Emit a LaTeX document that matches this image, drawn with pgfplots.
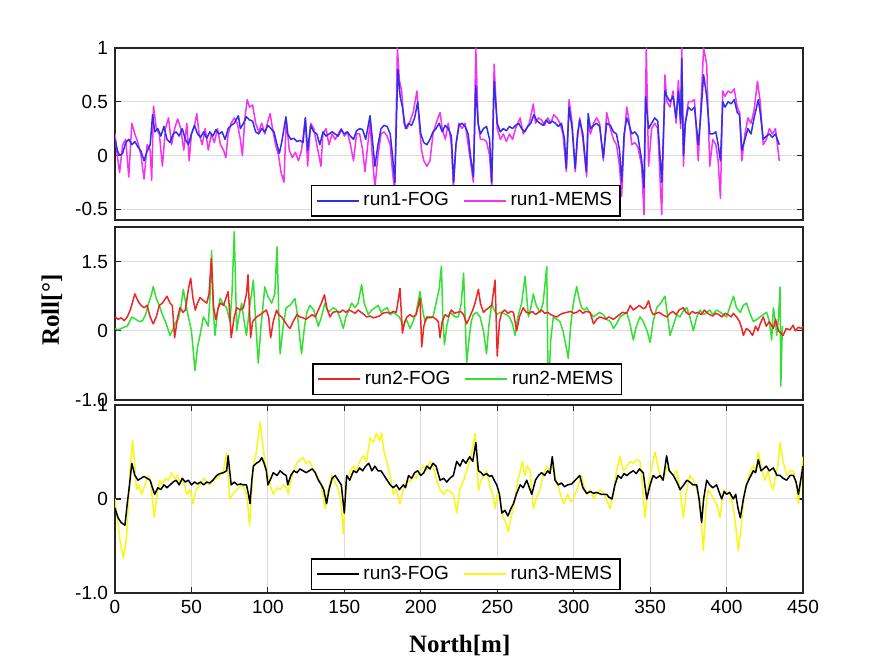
\documentclass[border=0pt]{standalone}
\usepackage{pgfplots}
\pgfplotsset{compat=1.18}
\usepackage{fontspec}
\setmainfont{Liberation Sans}
\newfontfamily\labfont{Liberation Serif}
\definecolor{fogblue}{rgb}{0.18,0.18,0.92}
\definecolor{memsmag}{rgb}{0.95,0.2,0.95}
\definecolor{fogred}{rgb}{0.93,0.15,0.15}
\definecolor{memsgreen}{rgb}{0.2,0.88,0.2}
\definecolor{memsyel}{rgb}{0.97,0.97,0.1}
\definecolor{gridgray}{rgb}{0.86,0.86,0.86}
\pgfplotsset{
  panel/.style={
    scale only axis, width=344pt, xmin=0, xmax=450,
    anchor=south west,
    axis line style={black!85, line width=0.7pt},
    tick align=inside, major tick length=3pt,
    tick style={black!85, line width=0.6pt},
    grid style={gridgray, line width=0.5pt},
    ticklabel style={font=\fontsize{9.5}{10}\selectfont},
    /pgf/number format/assume math mode=true,
    legend columns=2,
    reverse legend,
    legend cell align=left,
    legend style={draw=black, line width=0.7pt, fill=white,
      font=\fontsize{9.5}{10}\selectfont, inner xsep=2pt, inner ysep=1.5pt,
      /tikz/every even column/.append style={column sep=5pt},
      nodes={inner sep=2pt}},
    legend image code/.code={\draw[#1, line width=0.85pt] (0pt,0pt) -- (21pt,0pt);},
    every axis plot/.append style={line width=0.75pt, line join=round},
  }
}
\begin{document}
\begin{tikzpicture}
\path[use as bounding box] (0,0) rectangle (444pt,333.5pt);
% ---------- panel 1 ----------
\begin{axis}[panel, at={(57.5pt,223.5pt)}, height=86pt,
  ymin=-0.6, ymax=1, ytick={-0.5,0,0.5,1}, yticklabels={-0.5,0,0.5,1},
  xtick=\empty, ymajorgrids, ytick pos=both,
  legend style={at={(0.51,0.02)}, anchor=south}]
\addplot[memsmag] coordinates {(0,0.2)(1.5,0)(3,-0.16)(5,0.1)(7,0.15)(9,-0.2)(11,0.3)(13,0.2)(15,0.12)(17,0)(19,-0.22)(21,0.1)(23,0.05)(24,-0.23)(25.2,0.46)(27,0.25)(29,0.2)(31,-0.1)(33,0.25)(35,0.35)(37,0.1)(39,0.25)(41,0.34)(43,0.25)(45,0.05)(47,0.3)(48.5,-0.05)(50,0.2)(52,0.28)(53.5,0.39)(55,0.2)(57,0.1)(59,0.25)(61,0.05)(63,0.2)(65,0.12)(67,0.25)(69,0.1)(71,0.05)(72.5,-0.02)(74,0.2)(76,0.3)(78,0.35)(80,0.3)(82,0.15)(83.3,0)(85,0.35)(86.5,0.52)(88,0.45)(90,0.47)(92,0.3)(94,0.22)(96,0.3)(98,0.2)(100,0.32)(101.5,0.39)(103,0.25)(105,0.1)(107,0)(108.5,-0.15)(110.5,-0.25)(112,0.33)(114,0.05)(116,-0.02)(118,0.03)(120,-0.05)(122,0.05)(124.5,0.35)(126,-0.1)(128,0.3)(130,0.25)(132,0.1)(134.7,-0.1)(136,0.2)(138,0.25)(140,0.1)(142,0.2)(144,0.15)(146,0.2)(148,0.25)(150,0.18)(152,0.22)(154,0.1)(156,-0.05)(158,0.2)(160,0.2)(162,0.05)(163.5,-0.15)(166.8,0.3)(168,0.05)(170,-0.3)(172,0)(174,0.2)(176,0.22)(178,0.18)(180,0.1)(181.5,-0.15)(183,-0.35)(184.7,1)(186,0.7)(187.5,0.6)(189,0.3)(191,0.25)(193,0.32)(195,0.4)(197.5,0.6)(199,0.3)(200.5,0.05)(202,-0.05)(204,-0.1)(206,-0.05)(208,0.2)(210,0.3)(212.6,0.4)(214,0.25)(216,0.15)(218,0.3)(220,0.1)(221.3,-0.3)(223,0.1)(225,0.3)(227,0.25)(229,0.3)(231,0.1)(232.5,-0.05)(234.4,-0.25)(236,1)(237.5,0.3)(239,0.15)(241,0.15)(243,0.13)(245,0)(246.4,-0.3)(248,0.85)(250,0.25)(252,0.15)(254,0.2)(256,0.13)(258,0.2)(260,0.15)(262,0.25)(265,0.35)(267,0.2)(269,0.25)(271,0.3)(273.6,0.48)(275,0.3)(277,0.35)(279,0.33)(281,0.28)(283,0.35)(285,0.3)(287,0.38)(289,0.35)(291,0.3)(293,0.2)(295.2,-0.15)(297,0.52)(299,0.3)(301,-0.15)(302.5,0.15)(304,0.35)(306,0.15)(308.5,-0.2)(309.5,0.3)(311,0.2)(313,0.3)(315,0.35)(317,0.3)(319.4,-0.05)(321.6,0.4)(324,0.25)(326,0.15)(328,0.1)(330,-0.1)(331.4,-0.38)(333,0.15)(334.7,0.45)(336,0.35)(338,0.1)(340,0.12)(342,0.08)(344.5,-0.1)(346,-0.55)(347.5,1)(349,-0.1)(351,0.25)(353,0.3)(355,0.25)(357.6,-0.55)(359.7,0.75)(361,0.5)(363,0.45)(365,0.6)(367,0.3)(368.5,0.7)(370,0.25)(370.7,1)(371.8,-0.1)(373,0.3)(375,0.5)(377,0.5)(379,0.52)(381.5,-0.05)(383,0.4)(385,1)(387,0.85)(389,-0.1)(391,0.15)(393,0.1)(394.5,-0.05)(396,-0.4)(397.5,0.6)(399,0.55)(401,0.6)(403,0.58)(405,0.62)(407,0.45)(408.5,0.4)(410,-0.05)(412,0.2)(414,0.35)(416,0.3)(418,0.42)(420.2,0.69)(422,0.5)(424,0.1)(426,0.15)(428,0.25)(430,0.2)(432,0.25)(434.5,-0.05)};
\addlegendentry{run1-MEMS}
\addplot[fogblue] coordinates {(0,0.15)(1.5,0.05)(3,0)(5,0.02)(7,0.12)(9,0.15)(11,0.1)(13,0.13)(15,0.08)(17,0.04)(19,-0.05)(21,0.04)(23,0.1)(24.6,0.38)(26,0.22)(28,0.25)(30,0.18)(32,0.27)(34,0.15)(36,0.12)(38,0.2)(40,0.22)(42,0.18)(44,0.25)(46,0.15)(48,0.1)(50,0.2)(52,0.28)(54,0.2)(56,0.17)(58,0.22)(60,0.16)(62,0.22)(64,0.18)(66,0.24)(68,0.2)(70,0.22)(72,0.15)(74,0.25)(76,0.28)(78,0.3)(80.7,0.37)(82,0.25)(84,0.3)(86,0.36)(88,0.33)(90,0.32)(92,0.22)(94,0.2)(96,0.25)(98,0.22)(100,0.28)(102,0.25)(104,0.22)(106,0.1)(107.5,0.02)(109,0.12)(111.8,0.36)(113,0.2)(115,0.15)(117,0.16)(119,0.13)(121,0.14)(123,0.12)(124.5,0.35)(126,0.05)(128,0.28)(130,0.22)(132,0.2)(134,0.1)(136,0.22)(138,0.18)(140,0.2)(142,0.22)(144,0.2)(146,0.18)(148,0.24)(150,0.2)(152,0.22)(154,0.18)(156,0.15)(158,0.23)(160,0.25)(162,0.24)(164,0.15)(166.8,0.37)(168,0.2)(170,-0.1)(172,0.1)(174,0.25)(176,0.28)(178,0.27)(180,0.2)(181.5,0)(183,-0.25)(185,0.8)(186.5,0.55)(188,0.45)(190,0.25)(192,0.3)(194,0.28)(196,0.35)(198,0.5)(200,0.2)(202,0.12)(204,0.1)(206,0.15)(208,0.22)(210,0.25)(212,0.3)(214,0.22)(216,0.28)(218,0.25)(220,0.18)(221.5,-0.25)(223,0.1)(225,0.28)(227,0.3)(229,0.27)(231,0.2)(232.5,0)(234.4,-0.2)(236,0.65)(237.5,0.3)(239,0.2)(241,0.25)(243,0.27)(245,0.15)(246.4,-0.25)(248,0.69)(250,0.3)(252,0.22)(254,0.25)(256,0.23)(258,0.27)(260,0.25)(262,0.28)(264,0.3)(266,0.25)(268,0.22)(270,0.27)(272,0.3)(274,0.38)(276,0.32)(278,0.3)(280,0.28)(282,0.33)(284,0.3)(286,0.32)(288,0.3)(290,0.27)(292,0.3)(294,0.15)(295.2,-0.12)(297,0.45)(299,0.25)(301,-0.12)(302.5,0.2)(304,0.33)(306,0.2)(308.3,-0.15)(309.5,0.39)(311,0.25)(313,0.28)(315,0.3)(317,0.27)(319.4,-0.02)(321.6,0.3)(324,0.28)(326,0.22)(328,0.2)(330,0.05)(331.4,-0.25)(333,0.2)(334.7,0.35)(336,0.3)(338,0.2)(340,0.22)(342,0.18)(344.5,-0.05)(346,-0.3)(347,0.55)(349,0.25)(351,0.3)(353,0.35)(355,0.32)(357.6,-0.25)(359.7,0.6)(361,0.55)(363,0.5)(365,0.55)(367,0.35)(368.5,0.6)(370,0.3)(370.7,0.9)(371.8,0)(373,0.3)(375,0.45)(377,0.42)(379,0.45)(381.5,0.1)(383,0.35)(385,0.75)(387,0.55)(389,0.2)(391,0.2)(393,0.22)(394.5,0.1)(396,-0.05)(397.5,0.5)(399,0.45)(401,0.5)(403,0.48)(405,0.52)(407,0.4)(408.5,0.38)(410,0.05)(412,0.15)(414,0.25)(416,0.2)(418,0.35)(420.8,0.52)(422,0.4)(424,0.15)(426,0.18)(428,0.2)(430,0.17)(432,0.2)(434.5,0.1)};
\addlegendentry{run1-FOG}
\end{axis}
% ---------- panel 2 ----------
\begin{axis}[panel, at={(57.5pt,133.5pt)}, height=86.5pt,
  ymin=-1.5, ymax=2.25, ytick={-1.5,0,1.5}, yticklabels={-1.0,0,1.5},
  xtick=\empty, ymajorgrids, ytick pos=both,
  ylabel={\labfont\bfseries\fontsize{12.5}{13}\selectfont Roll[°]},
  ylabel style={at={(axis description cs:-0.0916,0.52)}, anchor=center},
  legend style={at={(0.512,0.029)}, anchor=south}]
\addplot[memsgreen] coordinates {(0,0.05)(2,0.02)(4,0.05)(6,0.08)(8,0.1)(11,0.3)(13.5,0.25)(16,0.2)(18,0.22)(20,0.35)(22,0.6)(24,0.8)(25,0.96)(27,0.7)(29,0.55)(31,0.35)(33,0.2)(34.5,0.05)(36,-0.1)(38,0.05)(40,0.2)(41.4,0.25)(43,0.5)(44.7,0.9)(46.5,0.55)(48,0.3)(50,0)(52.3,-0.86)(54,-0.35)(55.6,-0.1)(57.8,0.3)(59.5,0.2)(61,0.1)(62.2,0.8)(63.2,1.74)(64.2,0.5)(65.4,-0.1)(67,0.4)(68.7,0.7)(70.5,0.6)(73,0.5)(75.2,0.2)(76.5,0.8)(78,2.15)(79.6,0)(81,0.3)(82.8,0.6)(84.5,0.2)(86,-0.1)(88,0.5)(90.5,1.1)(92,0.2)(93.7,-0.7)(95.5,0.1)(98,0.95)(100,0.75)(102.5,0.6)(104.5,0.8)(106,1.82)(107,0.5)(108,-0.5)(110,0.1)(112,0.5)(114.5,0.55)(117.7,0.7)(119.5,0.3)(121,-0.2)(122,-0.5)(124,0.1)(125.5,0.4)(127.5,0.55)(130,0.45)(133,0.1)(135,0.3)(137.3,0.6)(139.5,0.4)(142.8,0.5)(145,0.45)(147,0.3)(149.3,0.05)(151,0.3)(153,0.45)(154.8,0.6)(157,0.5)(159,0.6)(161.3,1)(163,0.6)(165.7,0.35)(168,0.45)(170,0.5)(172.2,0.55)(174,0.4)(175.5,0.45)(178,0.5)(180,0.35)(182,0.4)(184,0.35)(186,0.3)(188.6,0.1)(190.5,0.25)(193,0.05)(195,0.2)(197,0.4)(199.5,0.85)(201,0.5)(202.7,0.2)(205,0.3)(208,0.3)(210,0.6)(212,0.9)(213.5,1.4)(214.5,0.2)(215.5,-0.3)(217,0.1)(219,0.4)(221,0.35)(222.5,0.3)(224.6,0.3)(226.5,0.6)(228,1.25)(229,0.3)(230,-0.7)(231.5,-0.2)(233,0.2)(234.4,0.35)(236.5,0.4)(238.8,0.3)(241,0)(243,-0.5)(244.5,0.1)(246.4,0.6)(248,0.45)(249.7,0.35)(252,0.4)(254,0.38)(256,0.35)(258,0.3)(260,0.15)(261.7,-0.1)(263.5,0.3)(266,0.6)(268.2,1.18)(270.4,0.3)(272,0.5)(273.6,0.8)(275.5,0.55)(278,0.4)(280,0.6)(282.4,1.39)(283.4,-1.4)(285,-0.2)(286.7,0.3)(289,0.25)(291,0.2)(293,0)(294.8,-0.3)(296.5,-0.6)(298,0.1)(299.8,0.6)(302,0.96)(303.5,0.7)(305.2,0.5)(307,0.45)(308.5,0.5)(310.5,0.4)(313,0.3)(315,0.35)(317,0.4)(319.4,0.35)(321.5,0.25)(324,0.2)(326,0.05)(328,0.15)(330.3,0.3)(332.5,0.35)(334.7,0.4)(336.5,0.2)(339,-0.2)(341,0.1)(343.4,0.3)(345.5,0.2)(348,0)(350,-0.25)(352,0.2)(354.3,0.5)(357,0.6)(359.7,0.75)(361.5,0.3)(363,-0.1)(365,0.1)(367.4,0.35)(369.5,0.3)(372,0.45)(374,0.5)(376,0.3)(378.3,0)(380.5,0.3)(382.6,0.45)(385,0.35)(387,0.4)(389,0.45)(391,0.35)(393.5,0.45)(396,0.4)(398,0.35)(400,0.3)(402,0.5)(404.5,0.75)(406.5,0.5)(409,0.4)(411,0.55)(413,0.6)(415,0.4)(417.5,0.2)(420,0.25)(422,0.3)(424,0.35)(426.2,0.4)(428,0.2)(429.5,-0.2)(430.6,0.5)(432,0.2)(432.8,-0.1)(434,0.3)(435,0.95)(435.5,-1.2)(436.5,0.1)};
\addlegendentry{run2-MEMS}
\addplot[fogred] coordinates {(0,0.3)(2,0.25)(4,0.28)(6,0.22)(8,0.3)(10,0.45)(13,0.8)(15,0.65)(17,0.55)(19,0.5)(21,0.55)(23,0.3)(25,0.15)(27,0.3)(29,0.55)(31,0.6)(34,0.75)(36,0.6)(37.5,0.55)(39,-0.15)(41,0.3)(42.5,0.5)(44.5,0.4)(46,0.45)(48,0.9)(49.5,1.14)(51,0.7)(52.5,0.45)(54,0.6)(55.6,0.72)(58,0.65)(60,0.6)(61.5,0.8)(63,1.57)(64.5,0.5)(66,0.24)(67.5,0.5)(69,0.6)(71,0.55)(74,0.85)(75,0.4)(76,-0.15)(78,0.3)(79.6,0.5)(82,0.45)(84,0.5)(86,0.8)(87,1.21)(88.7,-0.15)(90,0.2)(92.6,0.3)(95,0.35)(97,0.4)(99,0.45)(100.5,0.3)(101.8,-0.15)(103.5,0.2)(105.7,0.45)(107,0.35)(109,0.3)(111,0.2)(113,0.1)(114.5,0.05)(116.5,0.2)(119,0.35)(121,0.3)(123,0.28)(125,0.25)(127,0.3)(129,0.35)(131,0.3)(133,0.45)(135,0.6)(137,0.78)(138.5,0.5)(140.6,0.3)(142.5,0.4)(145,0.42)(147,0.4)(149,0.45)(151,0.4)(153,0.45)(155,0.42)(157,0.38)(159,0.45)(161,0.4)(163,0.35)(164.6,0.3)(167,0.32)(169,0.28)(171,0.3)(173,0.32)(175,0.38)(177.7,0.4)(180,0.38)(182,0.42)(184,0.4)(186.4,0.92)(188,-0.05)(189.5,0.2)(191,0.3)(193,0.35)(195,0.3)(197,0.35)(199.5,0.7)(200.6,-0.35)(202,0.1)(203.8,0.3)(206,0.28)(208,0.3)(210,0.25)(211.5,0.2)(212.6,-0.15)(214,0.2)(216,0.35)(218,0.3)(220,0.45)(222,0.38)(224,0.4)(226,0.42)(228,0.35)(230,0.15)(232,0.3)(234,0.45)(235.5,0.6)(237.7,0.9)(239,0.6)(241,0.4)(242.5,0.45)(244.5,0.5)(246.4,0.55)(248.6,1.1)(250,-0.55)(251.5,0.2)(253,0.4)(255,0.45)(257,0.38)(259,0.42)(260.6,0.4)(262.7,0)(264.5,0.3)(267,0.5)(269,0.4)(271,0.38)(273,0.42)(275,0.35)(277,0.4)(279,0.45)(281,0.38)(283,0.4)(285,0.35)(287,0.32)(289,0.3)(291,0.35)(293,0.38)(295.5,0.4)(298,0.42)(300,0.38)(302,0.4)(304,0.45)(306,0.38)(308,0.42)(310.7,0.4)(313,0.15)(315,0.25)(317,0.3)(319,0.28)(321,0.25)(323,0.3)(326,0.25)(328,0.3)(330,0.35)(332,0.4)(334.7,0.38)(337,0.55)(339,0.45)(341,0.5)(343,0.55)(345.5,0.48)(347,0.5)(349,0.65)(350.5,0.45)(352,0.35)(354,0.38)(356,0.4)(358,0.35)(361,0.3)(363,0.38)(365,0.42)(367,0.35)(369,0.45)(371.7,0.5)(373.5,0.4)(375.5,0.35)(377.5,0.42)(379.5,0.38)(381.5,0.4)(383.5,0.35)(385.5,0.45)(387,0.4)(389,0.35)(391,0.32)(393,0.38)(395,0.35)(397,0.3)(399,0.38)(401,0.35)(403,0.3)(404.5,0.38)(406.5,0.3)(408.5,0.2)(410,0.05)(411,-0.1)(413,0.05)(415,0)(417,-0.1)(419,0.1)(420.5,0)(422,0.15)(424,0.3)(426,0.1)(428,0.2)(430.6,0.05)(432,0.25)(434,0)(437,-0.1)(439,0.05)(441.5,0.02)(443.5,0.12)(445,0)(447,0.08)(448.5,0.05)(450,0.08)};
\addlegendentry{run2-FOG}
\end{axis}
% ---------- panel 3 ----------
\begin{axis}[panel, at={(57.5pt,37pt)}, height=94pt,
  ymin=-1, ymax=1, ytick={-1,0,1}, yticklabels={-1.0,0,1},
  xtick={0,50,...,450}, xticklabels={0,50,100,150,200,250,300,350,400,450},
  xmajorgrids, ymajorgrids, ytick pos=both, xtick pos=both,
  xlabel={\labfont\bfseries\fontsize{12.5}{13}\selectfont North[m]},
  xlabel style={at={(axis description cs:0.501,-0.277)}, anchor=center},
  legend style={at={(0.51,0.016)}, anchor=south}]
\addplot[memsyel] coordinates {(0,0)(1.5,-0.2)(3.3,-0.45)(5.5,-0.63)(7.6,-0.4)(9.8,0.3)(11.5,0.62)(13,0.35)(14,0.1)(15.5,0.15)(17.4,0.05)(19.5,0.15)(21.8,0.25)(23.5,0.15)(25.7,-0.2)(27.5,0.05)(29.4,0.2)(31,0.15)(33,0.22)(35,0.2)(37,0.28)(39,0.22)(41,0.25)(42.5,0.18)(44.5,0.2)(47,0.05)(49,0.1)(51,-0.05)(53,0.1)(55.6,0.15)(58,0.22)(60,0.18)(62,0.15)(64.3,0.2)(66.5,0.22)(68.7,0.25)(71,0.3)(73,0.49)(74,0.25)(75.2,0)(77,0.05)(79.6,0.1)(81,0.12)(83,0.15)(85,0.1)(86.5,0)(88,-0.28)(89.5,0.1)(90.5,0.35)(92.5,0.5)(94,0.7)(95,0.82)(96.5,0.6)(98,0.4)(100,0.25)(101.5,0.15)(103.5,0.05)(106,0.12)(108,0.1)(110,0.15)(112,0.12)(113.4,0.05)(115,0.2)(116.6,0.3)(119,0.38)(121,0.42)(123,0.44)(125,0.38)(127.5,0.4)(130,0.3)(132,0.25)(134,0.2)(136,0.05)(137.3,-0.1)(139.5,0.1)(141.7,0.25)(143.5,0.2)(146,0.1)(148,-0.05)(149.3,-0.37)(150.5,0)(151.5,0.2)(154,0.3)(156,0.35)(158,0.3)(160,0.4)(162.4,0.46)(164.5,0.4)(166.8,0.65)(169,0.6)(171,0.7)(173,0.62)(174.4,0.7)(176,0.5)(177.7,0.4)(180,0.25)(182,0.05)(184,0.1)(186.4,-0.05)(188.5,0.1)(190.8,0.2)(193,0.18)(195,0.25)(197,0.22)(199.5,0.3)(202,0.35)(204,0.3)(206,0.4)(208,0.35)(210.4,0.2)(212.6,0.1)(215,0.05)(217,0.1)(219,0.08)(221.3,0.05)(223.5,-0.15)(225.5,0.1)(228,0.2)(230,0.3)(232,0.4)(234,0.55)(235.5,0.7)(237.7,0.09)(239.5,0.2)(241,0.25)(243,0.3)(245,0.15)(247,0.05)(248.6,-0.1)(250,0.05)(251.8,0)(254,-0.2)(255.5,-0.25)(257.3,-0.35)(259,-0.2)(261.7,0)(263.5,0.2)(265,0.3)(266.5,0.4)(268,0.25)(269.5,0.35)(271.5,0.3)(273.6,-0.1)(275.5,0)(278,0.1)(280,0.25)(282.4,0.35)(284.5,0.3)(286.7,0.35)(288.5,0.2)(290.5,0.1)(293.3,-0.05)(296,0.05)(298,-0.03)(299.8,0)(302,0.1)(305.2,0.25)(306.5,0.15)(308.5,0.05)(311,0.1)(313,0)(315,0.05)(317.5,0.1)(320,0.05)(323.8,-0.1)(326,0.05)(328,0.3)(330.3,0.45)(332.5,0.3)(335,0.35)(337,0.4)(339,0.38)(341,0.42)(343.4,0.4)(345,0.15)(346.7,-0.2)(348.5,0.1)(350.5,0.3)(353.2,0.5)(355,0.35)(357.6,0.2)(359.5,0.25)(361,0.35)(363,0.3)(365,0.25)(367.4,0.3)(369.5,0.1)(371.7,-0.2)(373.5,0.05)(376,0.25)(378.5,0.2)(380.5,0.1)(382.6,0)(384.8,-0.55)(386.5,-0.1)(388,0.1)(390,0.05)(391.4,0)(393.5,-0.05)(395.7,-0.2)(398,0.1)(400,0.05)(402.3,0.05)(404.5,-0.1)(406,-0.3)(407.7,-0.55)(409.5,-0.3)(412,0.1)(414,0.2)(415.5,0.3)(417.5,0.35)(419,0.3)(420.8,0.5)(422.5,0.35)(425,0.2)(427,0.3)(429,0.15)(430.6,0.1)(432,0.25)(433.5,0.35)(435,0.6)(437,0.4)(439.3,0.25)(441.5,0.3)(443.7,0.3)(445.5,0.15)(447,-0.05)(448.5,0.2)(450,0.45)};
\addlegendentry{run3-MEMS}
\addplot[black] coordinates {(0,-0.1)(2,-0.2)(4,-0.25)(6.5,-0.28)(8,-0.05)(9.5,0.15)(11,0.38)(13,0.25)(15,0.2)(17,0.22)(19,0.24)(21,0.22)(23,0.2)(24.5,0.12)(26,0.05)(28,0.12)(30,0.1)(32,0.15)(34,0.12)(36,0.15)(38,0.18)(40,0.2)(42,0.15)(44,0.22)(46,0.18)(48,0.2)(50,0.15)(52,0.18)(54,0.16)(56,0.18)(58,0.15)(60,0.18)(62,0.17)(64,0.2)(66.5,0.25)(68.5,0.27)(71,0.28)(73,0.3)(74,0.46)(75,0.3)(76,0.15)(78,0.18)(80,0.15)(82,0.16)(84,0.15)(86,0.15)(87.3,0.05)(88.3,-0.05)(89.5,0.2)(90.5,0.35)(92.5,0.38)(94.5,0.4)(96,0.44)(97.5,0.38)(99,0.3)(100,0.15)(102,0.22)(103.5,0.28)(106,0.25)(108,0.3)(110,0.27)(112,0.25)(113,0.15)(115,0.25)(117,0.3)(119,0.28)(121,0.32)(123,0.3)(125,0.28)(127,0.3)(129,0.32)(131,0.28)(133,0.2)(135,0.15)(136.5,0.1)(138.4,-0.05)(140,0.1)(142,0.22)(144,0.25)(146,0.2)(148,0.15)(150,-0.15)(151.5,0.25)(153.5,0.2)(156,0.3)(158,0.28)(160,0.33)(162,0.3)(164,0.35)(166,0.38)(168,0.3)(170,0.35)(172,0.3)(174,0.3)(176,0.25)(178,0.2)(180,0.15)(182,0.12)(184,0.15)(186,0.1)(188.6,0.15)(190,0.12)(192,0.25)(194,0.22)(196,0.28)(198,0.3)(200,0.25)(202,0.28)(204,0.35)(206,0.32)(208,0.38)(210,0.35)(212.6,0.2)(215,0.22)(217,0.18)(219,0.22)(221.3,0.25)(223.5,0.4)(225.7,0.35)(227.5,0.42)(229.5,0.38)(232,0.45)(234,0.4)(236,0.6)(237.7,0.3)(239.5,0.28)(241,0.25)(243,0.27)(245,0.24)(246.5,0.25)(248,0.2)(249.7,0.15)(251.5,0.05)(253,-0.15)(255,-0.12)(257,-0.18)(259,-0.1)(260.6,-0.05)(262.5,0.05)(265,0.15)(267,0.12)(269.3,0.2)(271,0.12)(272.6,0.05)(275,0.2)(277,0.25)(279,0.28)(281,0.25)(283,0.3)(284.5,0.27)(286,0.45)(287.8,0.2)(290,0.15)(292,0.17)(294,0.13)(296,0.15)(298.7,0.16)(301,0.2)(304,0.25)(306,0.12)(308.5,0.06)(311,0.08)(313,0.06)(315,0.07)(318,0.05)(321.6,0.05)(323,0.02)(325,0)(327,0.15)(329,0.25)(331,0.22)(333,0.27)(334.7,0.25)(337,0.28)(339,0.3)(341,0.27)(343,0.32)(345.5,0.28)(347.8,0)(350,0.15)(352,0.25)(354,0.22)(356.5,0.25)(358.5,0.2)(360.8,0.46)(362.5,0.3)(365.2,0.25)(367.5,0.18)(369.6,0.1)(372,0.15)(374,0.2)(376,0.18)(378,0.15)(380.5,0.15)(382,0)(383.7,-0.25)(385,0)(387,0.2)(389,0.15)(391,0.12)(393.5,0.15)(395,0.08)(396.8,0)(398.5,0.08)(400,0.05)(402,0.07)(404.4,0)(406,0.05)(407.5,-0.1)(409,-0.2)(411,0)(413,0.15)(415,0.22)(417.5,0.3)(419,0.28)(420.8,0.42)(422.5,0.3)(424,0.32)(426,0.35)(428,0.3)(430.6,0.33)(433,0.25)(435,0.25)(437,0.22)(439.3,0.2)(441.5,0.25)(443.7,0.25)(445.5,0.18)(447,0.05)(448.5,0.2)(450,0.35)};
\addlegendentry{run3-FOG}
\end{axis}
\end{tikzpicture}
\end{document}
